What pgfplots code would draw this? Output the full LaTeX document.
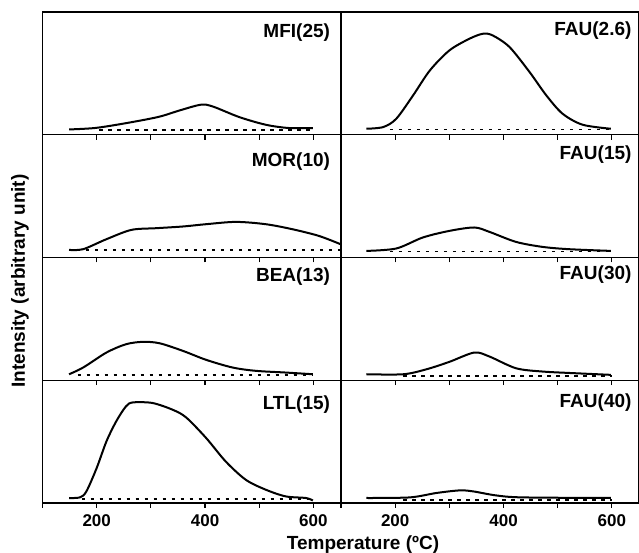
\documentclass[border=0pt]{standalone}
\usepackage{fontspec}
\setmainfont{Liberation Sans}
\usepackage{pgfplots}
\pgfplotsset{compat=1.18}

\pgfplotsset{
  panel/.style={
    scale only axis, width=298pt, height=122.75pt,
    xmin=100, xmax=650, ymin=0, ymax=122.75,
    xtick={100,200,...,600}, xticklabels={},
    xtick pos=bottom, tick align=outside, major tick length=5pt,
    ytick=\empty,
    axis line style={line width=1.1pt},
    every tick/.style={line width=1.1pt, black},
    tick label style={font=\fontsize{17}{17}\selectfont\bfseries},
    xticklabel style={yshift=-3pt},
  },
  bottomrow/.style={xticklabels={,200,,400,,600}},
  curve/.style={black, line width=2pt, no marks, smooth, tension=0.5},
  base/.style={black, line width=1.8pt, dash pattern=on 3.5pt off 5.5pt, no marks},
}
\newcommand{\plabel}[3]{\node[anchor=east, font=\fontsize{19}{19}\selectfont\bfseries] at (rel axis cs:1,1) [xshift=-#2pt, yshift=-#3pt] {#1};}

\begin{document}
\begin{tikzpicture}
\path[use as bounding box] (0,0) rectangle (639pt,553pt);

% left column
\begin{axis}[panel, at={(42.5pt,418.25pt)}, anchor=south west]
\addplot[curve] coordinates {(149,5.3)(196,6.7)(248,11)(313,17.7)(353,24.3)(392,30)(414,28.3)(463,17.7)(512,10)(555,6.7)(599,6.7)};
\addplot[base] coordinates {(205,5)(600,5)};
\plabel{MFI(25)}{7}{21}
\end{axis}

\begin{axis}[panel, at={(42.5pt,295.5pt)}, anchor=south west]
\addplot[curve] coordinates {(149,7.6)(175,8.3)(218,18.3)(264,27.6)(310,29.3)(359,31)(402,33.3)(457,35.6)(512,33.3)(561,28.3)(610,21.6)(650,13.3)};
\addplot[base] coordinates {(180,7.3)(650,7.3)};
\plabel{MOR(10)}{7}{27}
\end{axis}

\begin{axis}[panel, at={(42.5pt,172.75pt)}, anchor=south west]
\addplot[curve] coordinates {(149,6)(175,12.7)(218,27.7)(254,36)(285,38.4)(316,37)(359,29.4)(402,20.4)(451,12.7)(494,9.4)(549,7.7)(599,6)};
\addplot[base] coordinates {(165,5)(600,5)};
\plabel{BEA(13)}{7}{19}
\end{axis}

\begin{axis}[panel, bottomrow, at={(42.5pt,50pt)}, anchor=south west]
\addplot[curve] coordinates {(149,5)(169,5.6)(181,11.6)(200,35)(218,61.6)(236,81.6)(254,96.6)(267,100.6)(303,100)(340,93.3)(365,85.6)(402,65)(438,41.6)(475,23.3)(512,13.3)(549,6.6)(586,5)(599,2.5)};
\addplot[base] coordinates {(172,4.3)(600,4.3)};
\plabel{LTL(15)}{7}{24}
\end{axis}

% right column
\begin{axis}[panel, at={(341pt,418.25pt)}, anchor=south west]
\addplot[curve] coordinates {(147,6)(178,7.7)(202,16)(233,39.3)(264,64.3)(300,84.3)(337,96)(362,101)(380,99.3)(411,87.7)(448,62.7)(479,39.3)(509,21)(546,10)(598,6)};
\addplot[base] coordinates {(190,5.3)(600,5.3)};
\plabel{FAU(2.6)}{4}{19}
\end{axis}

\begin{axis}[panel, at={(341pt,295.5pt)}, anchor=south west]
\addplot[curve] coordinates {(147,6.6)(202,9)(251,20)(300,26.6)(346,30)(374,25.6)(423,15.6)(472,10.6)(521,8.3)(598,6.6)};
\addplot[base] coordinates {(190,6)(600,6)};
\plabel{FAU(15)}{4}{20}
\end{axis}

\begin{axis}[panel, at={(341pt,172.75pt)}, anchor=south west]
\addplot[curve] coordinates {(147,6)(215,6)(258,11)(300,18.4)(346,27.7)(374,23.7)(423,12)(472,8.7)(533,7)(598,5.4)};
\addplot[base] coordinates {(215,4.4)(600,4.4)};
\plabel{FAU(30)}{4}{17}
\end{axis}

\begin{axis}[panel, bottomrow, at={(341pt,50pt)}, anchor=south west]
\addplot[curve] coordinates {(147,5)(227,5.6)(276,10)(319,12.6)(344,11.6)(386,7.6)(435,5.6)(598,5)};
\addplot[base] coordinates {(215,3.3)(600,3.3)};
\plabel{FAU(40)}{4}{22}
\end{axis}

\node[rotate=90, font=\fontsize{19}{19}\selectfont\bfseries] at (20pt,272pt) {Intensity (arbitrary unit)};
\node[font=\fontsize{19}{19}\selectfont\bfseries] at (363pt,8pt) {Temperature (ºC)};
\end{tikzpicture}
\end{document}
